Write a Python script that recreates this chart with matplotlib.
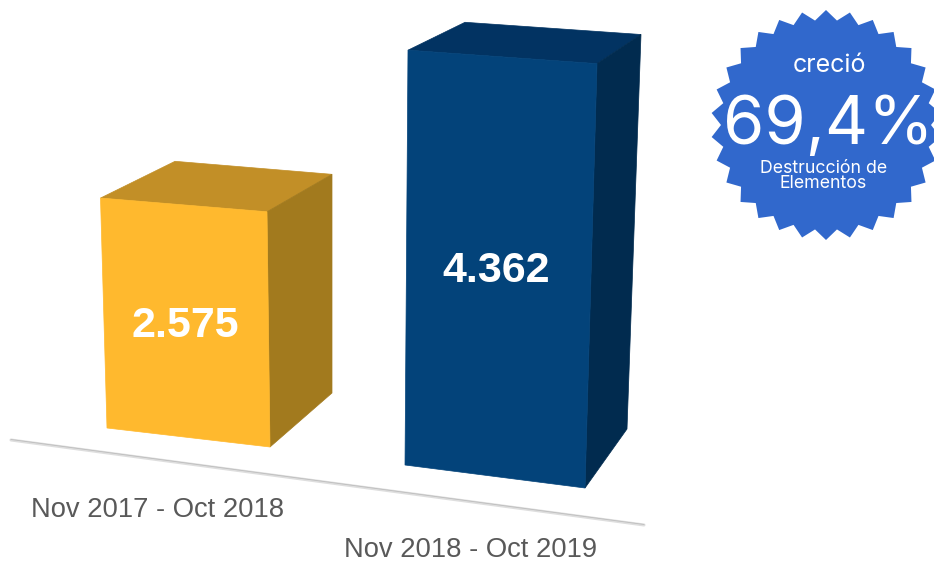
# -*- coding: utf-8 -*-
import numpy as np
import matplotlib
matplotlib.use("Agg")
import matplotlib.pyplot as plt
from matplotlib.patches import Polygon

# data
periods = ["Nov 2017 - Oct 2018", "Nov 2018 - Oct 2019"]
values = [2575, 4362]
value_labels = ["2.575", "4.362"]
badge_top = "creció"
badge_value = "69,4%"
badge_bottom = "Destrucción de\nElementos"

# fake 3d look, order of corners: front left, front right, back right, back left
front_colors = ["#FFB92E", "#03437A"]
side_colors = ["#A27A1E", "#012B4F"]
top_colors = ["#C28F27", "#023362"]
base_x = [[107, 270, 332, 169], [405, 585, 627, 447]]
base_y = [[428, 447, 393, 374], [465, 488, 429, 406]]
lean_x = [[-6.5, -3, 0, 6], [3, 12, 14, 18]]
px_per_unit = [0.0893, 0.0951]
corner_ratio = [1.0, 1.023, 0.951, 0.925]
label_offset = [(-0.5, 5), (-2.5, 4)]

fig = plt.figure(figsize=(9.34, 5.63), dpi=100)
ax = fig.add_axes([0, 0, 1, 1])
ax.set_xlim(0, 934)
ax.set_ylim(563, 0)
ax.axis("off")

# floor line
ax.plot([11, 644], [440, 525], color="#DEDEDE", lw=2.2, solid_capstyle="round", zorder=1)
ax.plot([11, 644], [439.5, 524.5], color="#BDBDBD", lw=0.6, zorder=1)

for i, value in enumerate(values):
    heights = [value * px_per_unit[i] * r for r in corner_ratio]
    bottom = list(zip(base_x[i], base_y[i]))
    top = [(base_x[i][j] + lean_x[i][j], base_y[i][j] - heights[j]) for j in range(4)]
    ax.add_patch(Polygon(top, color=top_colors[i], lw=0.5, zorder=2))
    ax.add_patch(Polygon([top[1], top[2], bottom[2], bottom[1]], color=side_colors[i], lw=0.5, zorder=2))
    ax.add_patch(Polygon([top[0], top[1], bottom[1], bottom[0]], color=front_colors[i], lw=0.5, zorder=3))
    text_x = sum(p[0] for p in top[:2] + bottom[:2]) / 4 + label_offset[i][0]
    text_y = sum(p[1] for p in top[:2] + bottom[:2]) / 4 + label_offset[i][1]
    ax.text(text_x, text_y, value_labels[i], color="white", fontsize=31, fontweight="bold",
            family="Liberation Sans", ha="center", va="center", zorder=4)

ax.text(158, 510, periods[0], color="#595959", fontsize=19.7, family="Liberation Sans", ha="center", va="center")
ax.text(471, 550, periods[1], color="#595959", fontsize=19.7, family="Liberation Sans", ha="center", va="center")

# badge
n_points = 30
angles = np.pi / 2 + np.arange(2 * n_points) * np.pi / n_points
radius = np.where(np.arange(2 * n_points) % 2 == 0, 115, 105)
star = np.column_stack([826 + radius * np.cos(angles), 125 - radius * np.sin(angles)])
ax.add_patch(Polygon(star, color="#3168CC", lw=0, zorder=2, clip_on=True))
ax.text(829.5, 66, badge_top, color="white", fontsize=18, family="Inter", ha="center", va="center", zorder=5)
ax.text(828.5, 127, badge_value, color="white", fontsize=48, family="Inter", ha="center", va="center", zorder=5)
ax.text(823.5, 176, badge_bottom, color="white", fontsize=12.8, family="Inter", ha="center", va="center",
        linespacing=0.85, zorder=5)

fig.savefig("out.png", dpi=100)
